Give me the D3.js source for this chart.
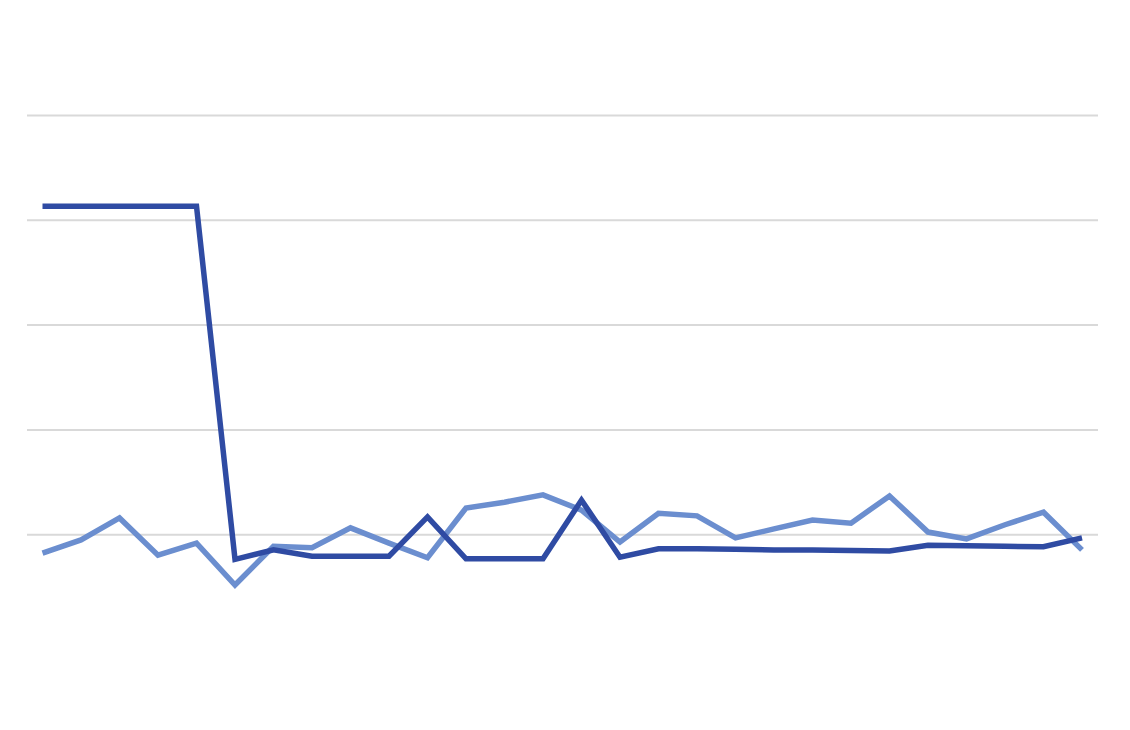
<!DOCTYPE html>
<html>
  <head>
    <style>
      body {
        margin: 0;
        background: #fff;
      }
    </style>
    <script src="https://d3js.org/d3.v7.min.js"></script>
  </head>
  <body>
    <svg id="chart" width="1130" height="730"></svg>
  </body>
  <script>
    // 28 periods, values
    var periods = d3.range(1, 29);
    var gridTicks = [20, 40, 60, 80, 100];

    var darkSeries = [
      82.7, 82.7, 82.7, 82.7, 82.7, 15.3, 17.1, 15.9, 15.9, 15.9,
      23.4, 15.4, 15.4, 15.4, 26.6, 15.7, 17.3, 17.3, 17.2, 17.1,
      17.1, 17.0, 16.9, 18.0, 17.9, 17.8, 17.7, 19.4,
    ];
    var lightSeries = [
      16.5, 19.0, 23.2, 16.1, 18.4, 10.4, 17.8, 17.5, 21.3, 18.4,
      15.6, 25.1, 26.2, 27.6, 24.7, 18.6, 24.1, 23.6, 19.4, 21.1,
      22.8, 22.2, 27.4, 20.5, 19.2, 21.9, 24.3, 17.1,
    ];

    var svg = d3.select('#chart');

    var x = d3
      .scalePoint()
      .domain(periods)
      .range([42.5, 1082]);

    var y = d3.scaleLinear().domain([0, 100]).range([639.5, 115.5]);

    // gridlines only, no labels
    svg
      .append('g')
      .attr('class', 'grid')
      .selectAll('line')
      .data(gridTicks)
      .join('line')
      .attr('x1', 27)
      .attr('x2', 1098)
      .attr('y1', (d) => y(d))
      .attr('y2', (d) => y(d))
      .attr('stroke', '#d9d9d9')
      .attr('stroke-width', 2);

    var line = d3
      .line()
      .x((d, i) => x(periods[i]))
      .y((d) => y(d));

    svg
      .append('path')
      .datum(lightSeries)
      .attr('fill', 'none')
      .attr('stroke', '#6b8ecf')
      .attr('stroke-width', 5.5)
      .attr('stroke-linejoin', 'miter')
      .attr('d', line);

    svg
      .append('path')
      .datum(darkSeries)
      .attr('fill', 'none')
      .attr('stroke', '#2f4ba3')
      .attr('stroke-width', 5.5)
      .attr('stroke-linejoin', 'miter')
      .attr('d', line);
  </script>
</html>
